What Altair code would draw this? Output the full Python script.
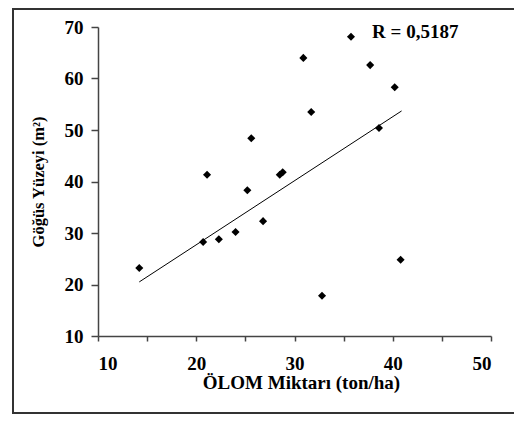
import altair as alt
import pandas as pd

# Scatter data
olom = [14.2, 20.7, 22.3, 24.0, 21.1, 25.2, 25.6, 30.9, 35.75, 37.7, 40.2, 31.7,
        38.6, 28.5, 28.8, 26.8, 32.8, 40.8]
gogus = [23.2, 28.25, 28.8, 30.2, 41.3, 38.3, 48.4, 64.0, 68.1, 62.6, 58.3, 53.5,
         50.4, 41.3, 41.8, 32.3, 17.8, 24.8]

# Trend line ends
trend_x = [14.2, 40.9]
trend_y = [20.5, 53.7]

# Annotation
r_text = ["R = 0,5187"]
r_x = [37.9]
r_y = [69.0]

x_ticks = [10, 15, 20, 25, 30, 35, 40, 45, 50]
y_ticks = [10, 20, 30, 40, 50, 60, 70]

W, H = 393, 309
FONT = "Liberation Serif"

pts = pd.DataFrame({"x": olom, "y": gogus})
trend = pd.DataFrame({"x": trend_x, "y": trend_y})
ann = pd.DataFrame({"x": r_x, "y": r_y, "t": r_text})

xscale = alt.Scale(domain=[10, 50], nice=False, zero=False)
yscale = alt.Scale(domain=[10, 70], nice=False, zero=False)

xaxis = alt.Axis(values=x_ticks, labelExpr="datum.value % 10 == 0 ? datum.label : ''",
                 title="ÖLOM Miktarı (ton/ha)", grid=False, tickSize=5,
                 labelPadding=13, titlePadding=0, titleX=203, titleFontSize=19)
yaxis = alt.Axis(values=y_ticks, title="Göğüs Yüzeyi (m²)", grid=False, tickSize=7,
                 labelPadding=8, titlePadding=18, titleFontSize=16.5)

border = alt.Chart(pd.DataFrame({"a": [0]})).mark_rect(
    fillOpacity=0, stroke="#333333", strokeWidth=2
).encode(
    x=alt.value(-85), x2=alt.value(W + 40), y=alt.value(-18), y2=alt.value(386)
)

points = alt.Chart(pts).mark_point(shape="diamond", filled=True, size=65,
                                   color="black", opacity=1).encode(
    x=alt.X("x:Q", scale=xscale, axis=xaxis),
    y=alt.Y("y:Q", scale=yscale, axis=yaxis),
)

line = alt.Chart(trend).mark_line(color="black", strokeWidth=1).encode(
    x=alt.X("x:Q", scale=xscale),
    y=alt.Y("y:Q", scale=yscale),
)

text = alt.Chart(ann).mark_text(align="left", baseline="middle", font=FONT,
                                fontWeight="bold", fontSize=19, color="black").encode(
    x=alt.X("x:Q", scale=xscale),
    y=alt.Y("y:Q", scale=yscale),
    text="t:N",
)

chart = alt.layer(border, points, line, text).properties(
    width=W, height=H,
    autosize=alt.AutoSizeParams(type="none"),
    padding={"left": 90, "top": 19, "right": 23, "bottom": 79},
).configure_view(stroke=None).configure_axis(
    labelFont=FONT, titleFont=FONT, labelFontSize=19,
    labelFontWeight="bold", titleFontWeight="bold", labelColor="black",
    titleColor="black", domainColor="#444444", tickColor="#444444",
    domainWidth=1.5, tickWidth=1.5,
)

chart.save("out.html", embed_options={"renderer": "svg", "actions": False})
